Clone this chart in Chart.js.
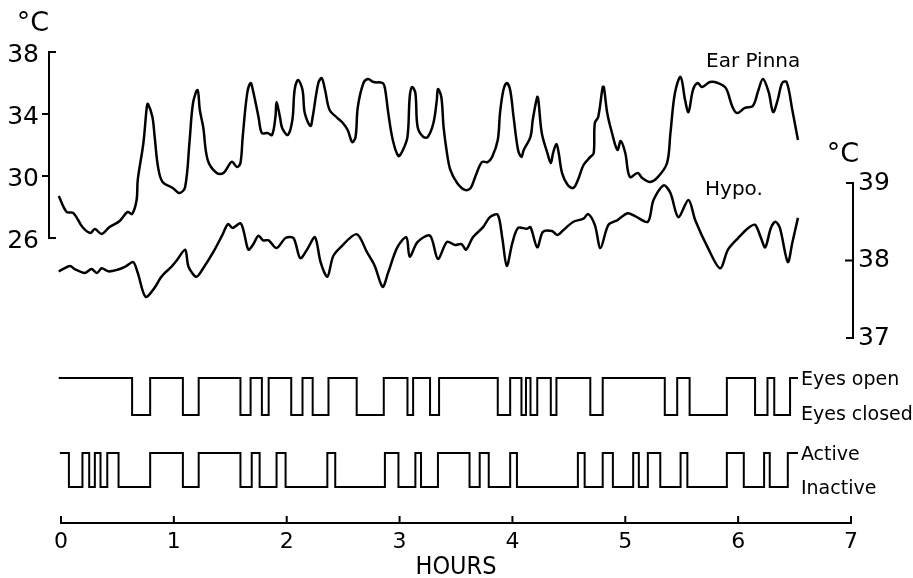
<!DOCTYPE html>
<html>
<head>
<meta charset="utf-8">
<script src="https://cdn.jsdelivr.net/npm/chart.js@4.4.1/dist/chart.umd.min.js"></script>
<style>
  html, body { margin: 0; padding: 0; background: #fff; }
  #wrap { width: 913px; height: 578px; position: relative; }
</style>
</head>
<body>
<div id="wrap"><canvas id="sleepChart"></canvas></div>
<script>
// hours after start
const pinnaHours = [
  -0.02, 0.05, 0.11, 0.19, 0.26, 0.30, 0.36, 0.43, 0.52, 0.59, 0.63, 0.67, 0.68, 0.73, 0.76, 0.77,
  0.81, 0.83, 0.86, 0.90, 0.99, 1.05, 1.10, 1.14, 1.17, 1.21, 1.23, 1.26, 1.30, 1.38, 1.44, 1.50,
  1.52, 1.56, 1.59, 1.61, 1.65, 1.68, 1.70, 1.75, 1.78, 1.83, 1.87, 1.90, 1.91, 1.94, 1.96, 2.01,
  2.05, 2.07, 2.10, 2.14, 2.16, 2.21, 2.23, 2.28, 2.31, 2.34, 2.38, 2.45, 2.49, 2.54, 2.58, 2.61,
  2.63, 2.68, 2.72, 2.77, 2.85, 2.87, 2.90, 2.94, 2.99, 3.03, 3.07, 3.09, 3.11, 3.14, 3.16, 3.21,
  3.25, 3.30, 3.33, 3.34, 3.37, 3.39, 3.42, 3.45, 3.51, 3.58, 3.63, 3.67, 3.73, 3.78, 3.82, 3.87,
  3.89, 3.92, 3.95, 3.98, 4.01, 4.05, 4.08, 4.10, 4.16, 4.18, 4.22, 4.23, 4.26, 4.31, 4.34, 4.36,
  4.39, 4.41, 4.44, 4.49, 4.54, 4.58, 4.63, 4.69, 4.72, 4.73, 4.76, 4.80, 4.81, 4.84, 4.88, 4.93,
  4.96, 5.00, 5.04, 5.11, 5.15, 5.22, 5.29, 5.37, 5.40, 5.44, 5.49, 5.53, 5.56, 5.60, 5.64, 5.68,
  5.75, 5.82, 5.89, 5.95, 5.99, 6.06, 6.13, 6.18, 6.22, 6.27, 6.31, 6.35, 6.39, 6.43, 6.48, 6.53
];
// ear pinna temperature, deg C
const pinnaTemp = [
  28.71, 27.68, 27.61, 26.71, 26.32, 26.58, 26.26, 26.71, 27.10, 27.68, 27.55, 28.45, 29.74, 32.13, 34.45, 34.65,
  33.81, 32.52, 30.58, 29.61, 29.23, 28.90, 29.29, 32.32, 34.71, 35.55, 34.26, 33.16, 31.03, 30.19, 30.19, 30.84,
  30.90, 30.58, 30.84, 32.52, 35.35, 36.00, 35.55, 33.81, 32.77, 32.77, 32.65, 33.81, 34.77, 33.81, 33.10, 32.65,
  33.61, 35.55, 36.19, 35.55, 34.06, 33.23, 33.81, 36.00, 36.32, 35.55, 34.26, 33.74, 33.48, 32.97, 32.19, 32.52,
  34.45, 36.00, 36.26, 36.06, 36.00, 35.68, 34.06, 32.32, 31.29, 31.68, 32.52, 35.10, 35.74, 35.35, 33.16, 32.52,
  32.52, 33.42, 34.90, 35.61, 35.10, 33.16, 31.48, 30.39, 29.55, 29.10, 29.23, 29.94, 30.90, 30.90, 31.23, 32.32,
  34.06, 35.55, 36.00, 35.55, 33.81, 31.68, 31.23, 31.68, 32.52, 33.61, 35.10, 34.90, 32.77, 31.48, 30.84, 31.48,
  32.06, 31.48, 30.19, 29.42, 29.23, 29.74, 30.71, 31.23, 31.48, 33.42, 33.81, 35.74, 35.74, 34.06, 32.84, 31.68,
  32.26, 31.48, 29.94, 30.19, 29.87, 29.61, 29.94, 30.84, 32.77, 35.35, 36.39, 34.90, 34.13, 35.55, 36.00, 35.74,
  36.06, 36.00, 35.68, 34.45, 34.06, 34.39, 34.52, 35.55, 36.26, 35.42, 34.13, 34.90, 36.00, 36.06, 34.26, 32.32
];

const hypoHours = [
  -0.02, 0.08, 0.12, 0.21, 0.27, 0.32, 0.36, 0.42, 0.50, 0.57, 0.64, 0.68, 0.75, 0.83, 0.88, 0.92,
  0.98, 1.03, 1.10, 1.13, 1.20, 1.26, 1.35, 1.43, 1.48, 1.52, 1.59, 1.62, 1.66, 1.70, 1.75, 1.79,
  1.84, 1.91, 1.99, 2.06, 2.12, 2.18, 2.25, 2.30, 2.36, 2.41, 2.47, 2.62, 2.71, 2.78, 2.85, 2.90,
  2.98, 3.06, 3.09, 3.16, 3.27, 3.34, 3.42, 3.49, 3.55, 3.59, 3.65, 3.74, 3.80, 3.87, 3.91, 3.95,
  4.00, 4.05, 4.13, 4.16, 4.22, 4.27, 4.35, 4.40, 4.45, 4.54, 4.63, 4.67, 4.73, 4.78, 4.85, 4.93,
  5.02, 5.09, 5.20, 5.25, 5.34, 5.40, 5.47, 5.56, 5.62, 5.73, 5.84, 5.91, 6.00, 6.09, 6.15, 6.20,
  6.24, 6.29, 6.33, 6.37, 6.44, 6.48, 6.53
];
// hypothalamic temperature, deg C
const hypoTemp = [
  37.86, 37.93, 37.89, 37.84, 37.89, 37.84, 37.90, 37.86, 37.88, 37.92, 37.98, 37.84, 37.53, 37.65, 37.77, 37.84,
  37.92, 38.01, 38.14, 37.92, 37.79, 37.90, 38.11, 38.33, 38.47, 38.42, 38.48, 38.37, 38.14, 38.20, 38.32, 38.26,
  38.26, 38.16, 38.29, 38.29, 38.03, 38.14, 38.30, 37.98, 37.79, 38.05, 38.16, 38.34, 38.11, 37.93, 37.66, 37.85,
  38.17, 38.30, 38.05, 38.24, 38.32, 38.02, 38.24, 38.20, 38.21, 38.14, 38.30, 38.43, 38.56, 38.59, 38.29, 37.93,
  38.23, 38.42, 38.41, 38.43, 38.17, 38.37, 38.38, 38.33, 38.39, 38.50, 38.54, 38.60, 38.46, 38.16, 38.46, 38.52,
  38.61, 38.57, 38.50, 38.78, 38.97, 38.87, 38.56, 38.78, 38.52, 38.17, 37.90, 38.14, 38.29, 38.42, 38.46, 38.30,
  38.17, 38.42, 38.50, 38.42, 37.98, 38.23, 38.55
];

// state changes: 1 = eyes open, 0 = eyes closed
const eyesHours = [
  -0.02, 0.63, 0.79, 1.08, 1.22, 1.59, 1.68, 1.78, 1.84, 2.04, 2.14, 2.23, 2.37, 2.62, 2.86, 3.07,
  3.12, 3.27, 3.35, 3.87, 3.98, 4.08, 4.12, 4.16, 4.22, 4.34, 4.39, 4.69, 4.80, 5.35, 5.46, 5.57,
  5.90, 6.15, 6.26, 6.32, 6.46, 6.53
];
const eyesState = [
  1, 0, 1, 0, 1, 0, 1, 0, 1, 0, 1, 0, 1, 0, 1, 0,
  1, 0, 1, 0, 1, 0, 1, 0, 1, 0, 1, 0, 1, 0, 1, 0,
  1, 0, 1, 0, 1, 1
];

// state changes: 1 = active, 0 = inactive
const activeHours = [
  -0.01, 0.07, 0.19, 0.25, 0.30, 0.35, 0.41, 0.51, 0.79, 1.08, 1.22, 1.59, 1.69, 1.76, 1.91, 1.99,
  2.36, 2.43, 2.87, 2.99, 3.14, 3.19, 3.34, 3.62, 3.71, 3.79, 3.98, 4.04, 4.58, 4.64, 4.80, 4.89,
  5.07, 5.12, 5.20, 5.31, 5.49, 5.55, 5.90, 6.05, 6.23, 6.28, 6.44, 6.53
];
const activeState = [
  1, 0, 1, 0, 1, 0, 1, 0, 1, 0, 1, 0, 1, 0, 1, 0,
  1, 0, 1, 0, 1, 0, 1, 0, 1, 0, 1, 0, 1, 0, 1, 0,
  1, 0, 1, 0, 1, 0, 1, 0, 1, 0, 1, 1
];

const hourTicks = [0, 1, 2, 3, 4, 5, 6, 7];
const pinnaTicks = [38, 34, 30, 26];
const hypoTicks = [39, 38, 37];

const toPoints = (xs, ys) => xs.map((x, i) => ({ x: x, y: ys[i] }));

// chart area is 52..523 px high; place each band by its top value and px per unit
const AREA_TOP = 52;
const AREA_H = 471;
const band = (topVal, topPx, pxPerUnit) => {
  const max = topVal + (topPx - AREA_TOP) / pxPerUnit;
  return { min: max - AREA_H / pxPerUnit, max: max };
};
const pinnaRange = band(38, 52, 15.5);
const hypoRange = band(39, 183, 77.5);
const eyesRange = band(1, 378, 37);
const activeRange = band(1, 453, 34);

const FONT = '"DejaVu Sans", sans-serif';

const paperAxes = {
  id: 'paperAxes',
  afterDraw(chart) {
    const { ctx, chartArea, scales } = chart;
    const x = scales.x, yP = scales.yP, yH = scales.yH, yE = scales.yE, yA = scales.yA;
    ctx.save();
    ctx.strokeStyle = '#000';
    ctx.fillStyle = '#000';
    ctx.lineWidth = 2;
    ctx.lineCap = 'square';

    // left axis (ear pinna)
    const lx = chartArea.left - 12;
    const pTop = yP.getPixelForValue(38), pBot = yP.getPixelForValue(26);
    ctx.beginPath();
    ctx.moveTo(lx + 6, pTop); ctx.lineTo(lx, pTop); ctx.lineTo(lx, pBot); ctx.lineTo(lx + 6, pBot);
    pinnaTicks.slice(1, -1).forEach(v => {
      const py = yP.getPixelForValue(v);
      ctx.moveTo(lx - 6, py); ctx.lineTo(lx, py);
    });
    ctx.stroke();
    ctx.font = '25px ' + FONT;
    ctx.textAlign = 'right';
    ctx.textBaseline = 'middle';
    pinnaTicks.forEach(v => ctx.fillText(String(v), lx - 10, yP.getPixelForValue(v) + 3));
    ctx.textAlign = 'center';
    ctx.font = '27px ' + FONT;
    ctx.fillText('°C', 33, 24);

    // right axis (hypothalamus)
    const rx = x.getPixelForValue(7) + 2;
    const hTop = yH.getPixelForValue(39), hBot = yH.getPixelForValue(37);
    ctx.beginPath();
    ctx.moveTo(rx - 6, hTop); ctx.lineTo(rx, hTop); ctx.lineTo(rx, hBot); ctx.lineTo(rx - 6, hBot);
    const h38 = yH.getPixelForValue(38);
    ctx.moveTo(rx - 7, h38); ctx.lineTo(rx, h38);
    ctx.stroke();
    ctx.font = '25px ' + FONT;
    ctx.textAlign = 'left';
    hypoTicks.forEach(v => ctx.fillText(String(v), rx + 5, yH.getPixelForValue(v)));
    ctx.textAlign = 'center';
    ctx.font = '27px ' + FONT;
    ctx.fillText('°C', 843, 155);

    // hours axis
    const by = chartArea.bottom;
    ctx.beginPath();
    ctx.moveTo(x.getPixelForValue(0), by); ctx.lineTo(x.getPixelForValue(7), by);
    hourTicks.forEach(h => {
      const px = x.getPixelForValue(h);
      ctx.moveTo(px, by); ctx.lineTo(px, by - 6);
    });
    ctx.stroke();
    ctx.font = '22px ' + FONT;
    ctx.textAlign = 'center';
    hourTicks.forEach(h => ctx.fillText(String(h), x.getPixelForValue(h), by + 19));
    ctx.font = '25px "DejaVu Sans Condensed", ' + FONT;
    ctx.fillText('HOURS', x.getPixelForValue(3.5), by + 44);

    // trace labels
    ctx.font = '20px ' + FONT;
    ctx.textAlign = 'left';
    ctx.fillText('Ear Pinna', 706, 62);
    ctx.fillText('Hypo.', 705, 190);
    ctx.font = '19px ' + FONT;
    const lab = x.getPixelForValue(6.53) + 3;
    ctx.fillText('Eyes open', lab, yE.getPixelForValue(1) + 2);
    ctx.fillText('Eyes closed', lab, yE.getPixelForValue(0) + 0);
    ctx.fillText('Active', lab, yA.getPixelForValue(1) + 2);
    ctx.fillText('Inactive', lab, yA.getPixelForValue(0) + 2);
    ctx.restore();
  }
};

const traceStyle = {
  borderColor: '#000000',
  backgroundColor: 'transparent',
  pointRadius: 0,
  fill: false,
  clip: false
};

const config = {
  type: 'line',
  data: {
    datasets: [
      Object.assign({ label: 'Ear Pinna', data: toPoints(pinnaHours, pinnaTemp), yAxisID: 'yP',
        borderWidth: 2.5, tension: 0.35 }, traceStyle),
      Object.assign({ label: 'Hypo.', data: toPoints(hypoHours, hypoTemp), yAxisID: 'yH',
        borderWidth: 2.5, tension: 0.3 }, traceStyle),
      Object.assign({ label: 'Eyes', data: toPoints(eyesHours, eyesState), yAxisID: 'yE',
        borderWidth: 2, stepped: true }, traceStyle),
      Object.assign({ label: 'Activity', data: toPoints(activeHours, activeState), yAxisID: 'yA',
        borderWidth: 2, stepped: true }, traceStyle)
    ]
  },
  options: {
    responsive: true,
    maintainAspectRatio: false,
    animation: false,
    layout: { padding: { left: 61, right: 62, top: 52, bottom: 55 } },
    scales: {
      x: { type: 'linear', min: 0, max: 7, display: false },
      yP: { type: 'linear', min: pinnaRange.min, max: pinnaRange.max, display: false },
      yH: { type: 'linear', min: hypoRange.min, max: hypoRange.max, display: false },
      yE: { type: 'linear', min: eyesRange.min, max: eyesRange.max, display: false },
      yA: { type: 'linear', min: activeRange.min, max: activeRange.max, display: false }
    },
    plugins: {
      legend: { display: false },
      tooltip: { enabled: false }
    }
  },
  plugins: [paperAxes]
};

new Chart(document.getElementById('sleepChart').getContext('2d'), config);
</script>
</body>
</html>
